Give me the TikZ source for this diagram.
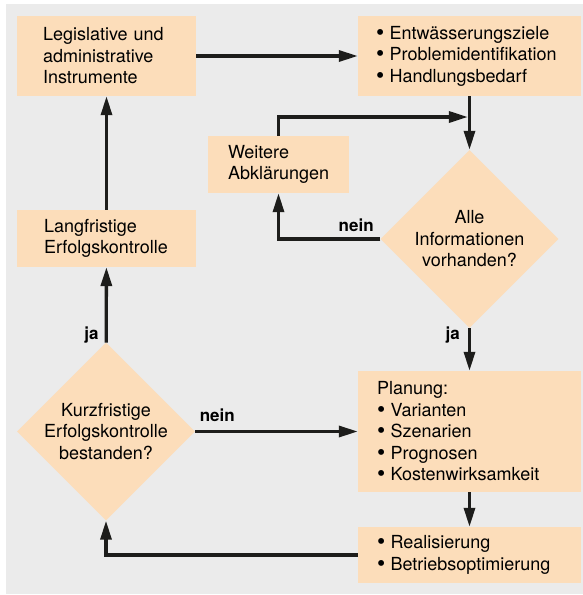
\documentclass[tikz,border=0pt]{standalone}
\usepackage{fontspec}
\setmainfont{TeX Gyre Heros}
\usetikzlibrary{shapes.geometric,arrows.meta}

\definecolor{peach}{HTML}{FCDDBA}
\definecolor{panel}{HTML}{EBEBEB}
\definecolor{ink}{HTML}{1D1D1B}
\newcommand{\itm}{\raisebox{-0.06em}{\scalebox{1.3}{\textbullet}}\hspace{0.3em}}

\begin{document}
\begin{tikzpicture}[x=1pt,y=-1pt,
    flow/.style={-{Triangle[length=19pt,width=11pt]},line width=3.3pt,draw=ink},
    box/.style={rectangle,fill=peach,inner sep=0pt,align=left,
      font=\fontsize{18pt}{21.5pt}\selectfont},
    test/.style={diamond,fill=peach,inner sep=-4pt,aspect=1,minimum size=178pt,
      align=center,font=\fontsize{18pt}{21.5pt}\selectfont},
    lbl/.style={font=\fontsize{17pt}{20pt}\selectfont\bfseries,inner sep=0pt}]

\useasboundingbox (0,0) rectangle (583,595);
\fill[panel] (6,4) rectangle (583,594);

% boxes
\node[box,minimum width=179pt,minimum height=80pt,text width=127pt] (leg) at (106.5,56)
  {Legislative und\\administrative\\Instrumente};
\node[box,minimum width=223pt,minimum height=80pt,text width=187pt] (ziele) at (469.5,56)
  {\itm Entwässerungsziele\\\itm Problemidentifikation\\\itm Handlungsbedarf};
\node[box,minimum width=141pt,minimum height=57pt,text width=101pt] (weit) at (278.5,164.5)
  {Weitere\\Abklärungen};
\node[box,minimum width=179pt,minimum height=57pt,text width=125pt] (lang) at (106.5,238.5)
  {Langfristige\\Erfolgskontrolle};
\node[box,minimum width=223pt,minimum height=121pt,text width=185pt] (plan) at (469.5,431.5)
  {Planung:\\\itm Varianten\\\itm Szenarien\\\itm Prognosen\\\itm Kostenwirksamkeit};
\node[box,minimum width=223pt,minimum height=56pt,text width=185pt] (real) at (469.5,555)
  {\itm Realisierung\\\itm Betriebsoptimierung};

% decisions
\node[test] (alle) at (469.5,239) {Alle\\Informationen\\vorhanden?};
\node[test] (kurz) at (106,431.5) {Kurzfristige\\Erfolgskontrolle\\bestanden?};

\coordinate (merge) at (469.5,117);

% connectors
\draw[flow] (leg) -- (ziele);
\draw[flow] (ziele) -- (alle);
\draw[flow,shorten >=1.6pt] (weit.north) |- (merge);
\draw[flow] (alle.west) -| node[lbl,pos=0,anchor=south east,xshift=-5pt,yshift=6pt] {nein} (weit.south);
\draw[flow] (alle) -- node[lbl,pos=0.15,anchor=east,xshift=-8pt] {ja} (plan);
\draw[flow] (plan) -- (real);
\draw[flow] (real.west) -| (kurz.south);
\draw[flow] (kurz) -- node[lbl,pos=0,anchor=south west,xshift=3pt,yshift=8pt] {nein} (plan);
\draw[flow] (kurz) -- node[lbl,pos=0.1,anchor=east,xshift=-6pt] {ja} (lang);
\draw[flow] (lang) -- (leg);

\end{tikzpicture}
\end{document}
